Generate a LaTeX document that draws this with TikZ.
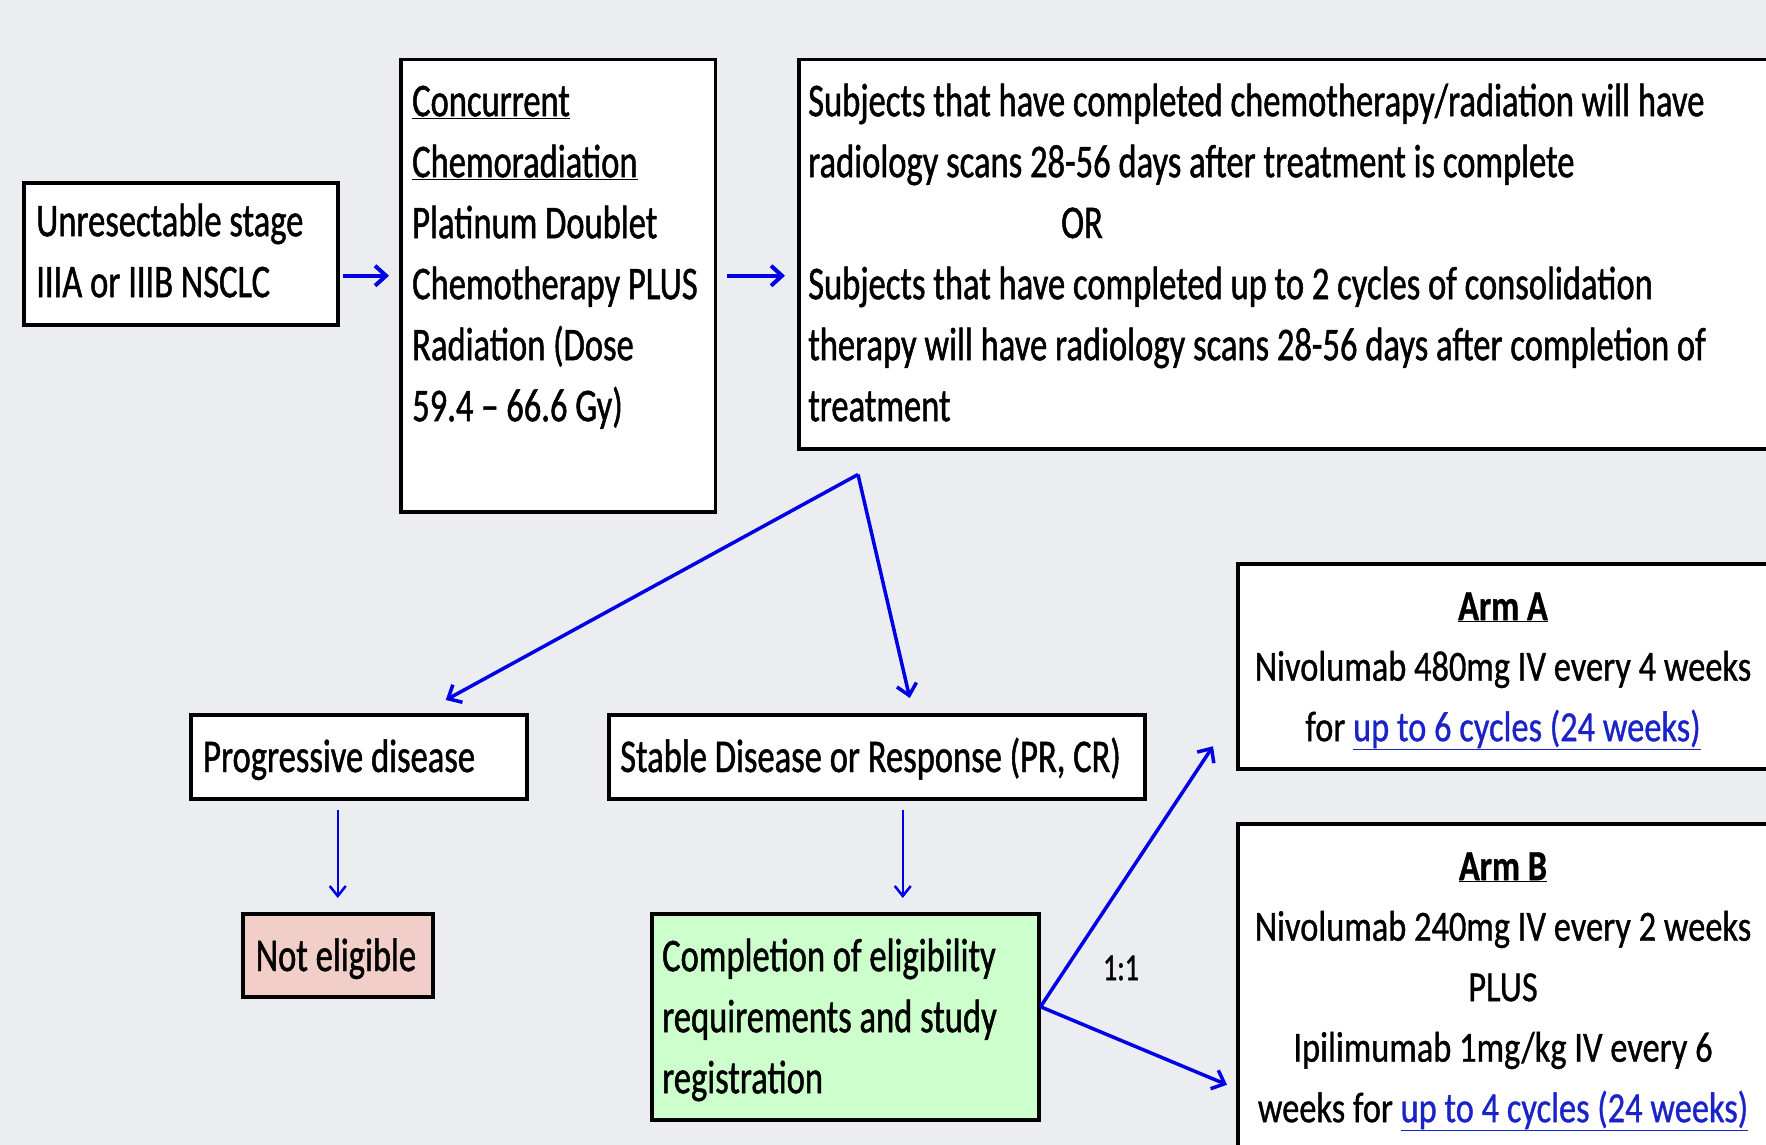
\documentclass[tikz,border=0pt]{standalone}
\usepackage{fontspec}
\usetikzlibrary{arrows.meta,calc}
\newfontfamily\cf[FakeStretch=0.735,FakeBold=1,Ligatures=TeX]{Carlito}
\newfontfamily\af[FakeStretch=0.8,FakeBold=0.8,Ligatures=TeX]{Carlito}
\definecolor{bg}{RGB}{235,237,240}
\definecolor{arrblue}{RGB}{0,0,230}
\definecolor{linkblue}{RGB}{25,35,200}
\definecolor{nepink}{RGB}{242,206,200}
\definecolor{cgreen}{RGB}{204,255,204}
\tikzset{
  box/.style={draw=black, line width=3.5pt, fill=white, rectangle, inner sep=0pt, anchor=north west},
  txt/.style={inner sep=0pt, anchor=north west, align=left, font=\cf\fontsize{47}{61}\selectfont},
  onel/.style={inner sep=0pt, anchor=base west, font=\cf\fontsize{47}{61}\selectfont},
  armtxt/.style={inner sep=0pt, anchor=north, align=center, font=\af\fontsize{43}{60.5}\selectfont},
  arrA/.style={draw=arrblue, line width=4pt, -{Straight Barb[length=11pt,width=20pt]}},
  arrB/.style={draw=arrblue, line width=3.5pt, -{Straight Barb[length=11pt,width=20pt]}},
  arrC/.style={draw=arrblue, line width=2.5pt, -{Straight Barb[length=10pt,width=16pt]}},
}
\begin{document}
\begin{tikzpicture}[x=1pt,y=-1pt]
\useasboundingbox (0,0) rectangle (1766,1145);
\clip (0,0) rectangle (1766,1145);
\fill[bg] (0,0) rectangle (1766,1145);

% boxes
\node[box, minimum width=314pt, minimum height=142pt] (b1) at (22,181) {};
\node[box, minimum width=314.6pt, minimum height=452pt] (b2) at (399,58) {};
\node[box, minimum width=1000pt, minimum height=389pt] (b3) at (797,58) {};
\node[box, minimum width=336pt, minimum height=84pt] (pd) at (189,713) {};
\node[box, minimum width=536pt, minimum height=84pt] (sd) at (607,713) {};
\node[box, fill=nepink, minimum width=190pt, minimum height=83pt] (ne) at (241,912) {};
\node[box, fill=cgreen, minimum width=387pt, minimum height=206pt] (comp) at (650,912) {};
\node[box, minimum width=560pt, minimum height=205pt] (armA) at (1236,562) {};
\node[box, minimum width=560pt, minimum height=360pt] (armB) at (1236,822) {};

% texts
\node[txt] (t1) at (36,196) {\rule{0pt}{40pt}Unresectable stage\\IIIA or IIIB NSCLC};
\node[txt] (t2) at (412,76) {\rule{0pt}{40pt}\underline{Concurrent}\\\underline{Chemoradiation}\\Platinum Doublet\\Chemotherapy PLUS\\Radiation (Dose\\59.4 – 66.6 Gy)};
\node[txt] (t3) at (808,76) {\rule{0pt}{40pt}Subjects that have completed chemotherapy/radiation will have\\radiology scans 28-56 days after treatment is complete\\[61pt]Subjects that have completed up to 2 cycles of consolidation\\therapy will have radiology scans 28-56 days after completion of\\treatment};
\node[onel, anchor=base] (tor) at (1082,238) {OR};
\node[onel] (tpd) at (203,772) {Progressive disease};
\node[onel] (tsd) at (620,772) {Stable Disease or Response (PR, CR)};
\node[onel, anchor=base] (tne) at (336,971) {Not eligible};
\node[txt] (tcomp) at (662,931) {\rule{0pt}{40pt}Completion of eligibility\\requirements and study\\registration};
\node[inner sep=0pt, font=\cf\fontsize{38}{40}\selectfont] (t11) at (1121,968) {1:1};
\node[armtxt] (tA) at (1503,584) {\rule{0pt}{36pt}\textbf{\underline{Arm A}}\\Nivolumab 480mg IV every 4 weeks\\for \textcolor{linkblue}{\underline{up to 6 cycles (24 weeks)}}};
\node[armtxt] (tB) at (1503,844) {\rule{0pt}{36pt}\textbf{\underline{Arm B}}\\Nivolumab 240mg IV every 2 weeks\\PLUS\\Ipilimumab 1mg/kg IV every 6\\weeks for \textcolor{linkblue}{\underline{up to 4 cycles (24 weeks)}}};

% connectors
\draw[arrA, shorten <=3pt, shorten >=10pt] ([yshift=-22pt]b1.east) -- ([yshift=-22pt]b1.east -| b2.west);
\draw[arrA, shorten <=10pt, shorten >=12pt] ([yshift=10pt]b2.east) -- ([yshift=10pt]b2.east -| b3.west);
\coordinate (sp) at ([xshift=61pt,yshift=-24pt]b3.south west);
\draw[arrB] (sp) -- ([xshift=87pt,yshift=13pt]pd.north);
\draw[arrB] (sp) -- ([xshift=33pt,yshift=15pt]sd.north);
\draw[arrC, shorten <=9pt, shorten >=14pt] (ne.north |- pd.south) -- (ne.north);
\draw[arrC, shorten <=9pt, shorten >=14pt] ([xshift=26pt]sd.south) -- ([xshift=26pt]sd.south |- comp.north);
\draw[arrB] ([yshift=10pt]comp.east) -- ([xshift=-23pt,yshift=-80pt]armA.west);
\draw[arrB] ([yshift=10pt]comp.east) -- ([xshift=-9pt,yshift=-81pt]armB.west);
\end{tikzpicture}
\end{document}
